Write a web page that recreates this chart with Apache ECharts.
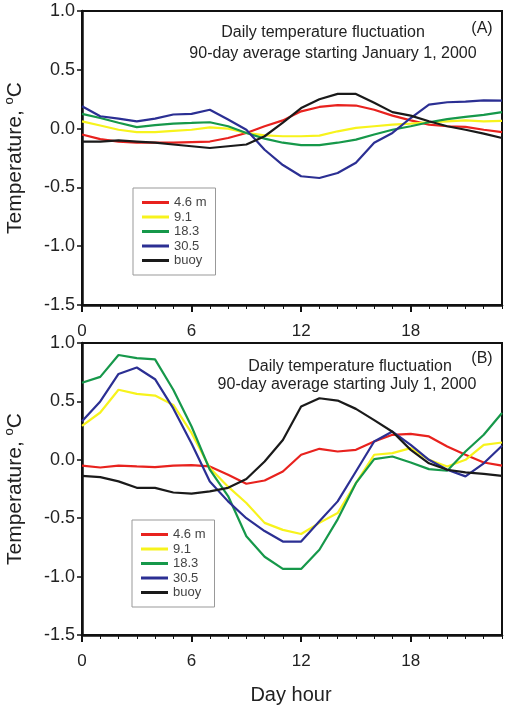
<!DOCTYPE html>
<html>
<head>
<meta charset="utf-8">
<script src="https://cdn.jsdelivr.net/npm/echarts@6/dist/echarts.min.js"></script>
<style>
html,body{margin:0;padding:0;background:#fff;}
#chart{width:510px;height:716px;}
</style>
</head>
<body>
<div id="chart"></div>
<script>
// ---- data ----
var hours = [0,1,2,3,4,5,6,7,8,9,10,11,12,13,14,15,16,17,18,19,20,21,22,23];
var seriesNames = ['4.6 m', '9.1', '18.3', '30.5', 'buoy'];
var xTickLabels = ['0', '6', '12', '18'];
var yTickLabels = ['-1.5', '-1.0', '-0.5', '0.0', '0.5', '1.0'];

// Panel A: 90-day average starting January 1, 2000
var jan_4_6 = [-0.05,-0.09,-0.11,-0.12,-0.12,-0.12,-0.115,-0.11,-0.08,-0.037,0.02,0.07,0.147,0.184,0.2,0.196,0.16,0.11,0.07,0.034,0.02,0.014,-0.01,-0.03];
var jan_9_1 = [0.062,0.026,-0.01,-0.03,-0.03,-0.02,-0.01,0.01,0.0,-0.037,-0.057,-0.065,-0.065,-0.06,-0.023,0.006,0.02,0.034,0.043,0.054,0.062,0.07,0.062,0.065];
var jan_18_3 = [0.125,0.09,0.05,0.012,0.03,0.043,0.048,0.054,0.02,-0.037,-0.085,-0.12,-0.14,-0.14,-0.12,-0.094,-0.05,-0.01,0.02,0.054,0.08,0.1,0.116,0.14];
var jan_30_5 = [0.19,0.105,0.085,0.062,0.085,0.12,0.125,0.16,0.077,-0.01,-0.18,-0.31,-0.405,-0.42,-0.377,-0.29,-0.12,-0.037,0.09,0.204,0.224,0.23,0.24,0.238];
var jan_buoy = [-0.11,-0.11,-0.1,-0.11,-0.12,-0.135,-0.15,-0.165,-0.15,-0.135,-0.065,0.05,0.175,0.25,0.295,0.295,0.22,0.14,0.11,0.062,0.02,-0.01,-0.043,-0.08];

// Panel B: 90-day average starting July 1, 2000
var jul_4_6 = [-0.05,-0.066,-0.05,-0.057,-0.063,-0.05,-0.046,-0.057,-0.128,-0.205,-0.177,-0.1,0.043,0.094,0.071,0.085,0.157,0.214,0.222,0.2,0.114,0.043,-0.023,-0.05];
var jul_9_1 = [0.29,0.405,0.6,0.564,0.55,0.47,0.23,-0.07,-0.23,-0.37,-0.54,-0.6,-0.635,-0.54,-0.456,-0.2,0.043,0.057,0.1,0.0,-0.057,0.0,0.128,0.148];
var jul_18_3 = [0.66,0.71,0.897,0.87,0.86,0.6,0.285,-0.085,-0.31,-0.655,-0.83,-0.934,-0.934,-0.77,-0.51,-0.2,0.006,0.028,-0.023,-0.08,-0.094,0.071,0.214,0.4];
var jul_30_5 = [0.33,0.5,0.735,0.79,0.69,0.44,0.14,-0.185,-0.356,-0.5,-0.61,-0.7,-0.7,-0.527,-0.356,-0.1,0.157,0.242,0.128,0.0,-0.085,-0.142,-0.03,0.12];
var jul_buoy = [-0.137,-0.148,-0.185,-0.24,-0.24,-0.28,-0.29,-0.27,-0.24,-0.165,-0.014,0.17,0.456,0.527,0.507,0.436,0.34,0.24,0.085,-0.03,-0.085,-0.108,-0.12,-0.137];

var colors = ['#e8221e', '#f7f31c', '#16984a', '#2b2f93', '#1a1a1a'];
var panelA = [jan_4_6, jan_9_1, jan_18_3, jan_30_5, jan_buoy];
var panelB = [jul_4_6, jul_9_1, jul_18_3, jul_30_5, jul_buoy];

function pairs(arr){ return hours.map(function(h,i){ return [h, arr[i]]; }); }

var FONT = '"Liberation Sans", Arial, sans-serif';
var TXT = '#222';

function majorX(gi, margin){
  return {
    type:'value', gridIndex: gi, min: 0, max: 23, interval: 6, position:'bottom',
    axisLine:{show:true, onZero:false, lineStyle:{color:'#111', width:2.5}},
    axisTick:{show:true, length:7, lineStyle:{color:'#111', width:2}},
    axisLabel:{show:true, fontSize:17, color:TXT, fontFamily:FONT, margin:margin, showMaxLabel:false,
      formatter:function(v){ var i = xTickLabels.indexOf(String(v)); return i>=0 ? xTickLabels[i] : ''; }},
    splitLine:{show:false}
  };
}
function minorX(gi){
  return {
    type:'value', gridIndex: gi, min: 0, max: 23, interval: 1, position:'bottom',
    axisLine:{show:false, onZero:false},
    axisTick:{show:true, length:4, lineStyle:{color:'#111', width:1}},
    axisLabel:{show:false},
    splitLine:{show:false}
  };
}
function yAx(gi){
  return {
    type:'value', gridIndex: gi, min:-1.5, max:1.0, interval:0.5,
    name:'Temperature, {sup|o}C', nameLocation:'middle', nameGap:55,
    nameTextStyle:{fontSize:21, color:TXT, fontFamily:FONT,
      rich:{sup:{fontSize:13, color:TXT, fontFamily:FONT, verticalAlign:'top', lineHeight:24}}},
    axisLine:{show:true, onZero:false, lineStyle:{color:'#111', width:2.5}},
    axisTick:{show:true, length:5, lineStyle:{color:'#111', width:1.5}},
    axisLabel:{fontSize:18, color:TXT, fontFamily:FONT, margin:7,
      formatter:function(v){ var s = v.toFixed(1); return yTickLabels.indexOf(s)>=0 ? s : ''; }},
    splitLine:{show:false}
  };
}
function legend(left, top){
  return {
    data: seriesNames, orient:'vertical', left:left, top:top,
    icon:'rect', itemWidth:27, itemHeight:3, itemGap:1.5,
    padding:[8,9,8,9], backgroundColor:'#fff', borderColor:'#999', borderWidth:1,
    textStyle:{fontSize:13, lineHeight:13, color:'#444', fontFamily:FONT}
  };
}

var series = [];
seriesNames.forEach(function(n,i){
  series.push({name:n, type:'line', xAxisIndex:0, yAxisIndex:0, data:pairs(panelA[i]),
    showSymbol:false, symbol:'none', lineStyle:{width:2.2, color:colors[i]}, itemStyle:{color:colors[i]}});
});
seriesNames.forEach(function(n,i){
  series.push({name:n, type:'line', xAxisIndex:2, yAxisIndex:1, data:pairs(panelB[i]),
    showSymbol:false, symbol:'none', lineStyle:{width:2.2, color:colors[i]}, itemStyle:{color:colors[i]}});
});

function txt(x, y, s, size){
  return {type:'text', x:x, y:y, z:100, style:{text:s, textAlign:'center', textVerticalAlign:'middle',
    fontSize:size, fontFamily:FONT, fill:TXT}};
}

var option = {
  animation:false,
  backgroundColor:'#fff',
  grid:[
    {left:82, top:11, width:420, height:294, show:true, borderColor:'#111', borderWidth:2, backgroundColor:'transparent', outerBoundsMode:'none', containLabel:false},
    {left:82, top:343, width:420, height:292, show:true, borderColor:'#111', borderWidth:2, backgroundColor:'transparent', outerBoundsMode:'none', containLabel:false}
  ],
  xAxis:[majorX(0, 18), minorX(0), majorX(1, 18), minorX(1)],
  yAxis:[yAx(0), yAx(1)],
  legend:[legend(133, 188), legend(132, 520)],
  series: series,
  graphic:[
    txt(323, 33, 'Daily temperature fluctuation', 16),
    txt(333, 54, '90-day average starting January 1, 2000', 16),
    txt(482, 29, '(A)', 16),
    txt(350, 367, 'Daily temperature fluctuation', 16),
    txt(347, 385, '90-day average starting July 1, 2000', 16),
    txt(482, 359, '(B)', 16),
    txt(291, 695, 'Day hour', 20)
  ]
};

var chart = echarts.init(document.getElementById('chart'), null, {renderer:'canvas'});
chart.setOption(option);
</script>
</body>
</html>
